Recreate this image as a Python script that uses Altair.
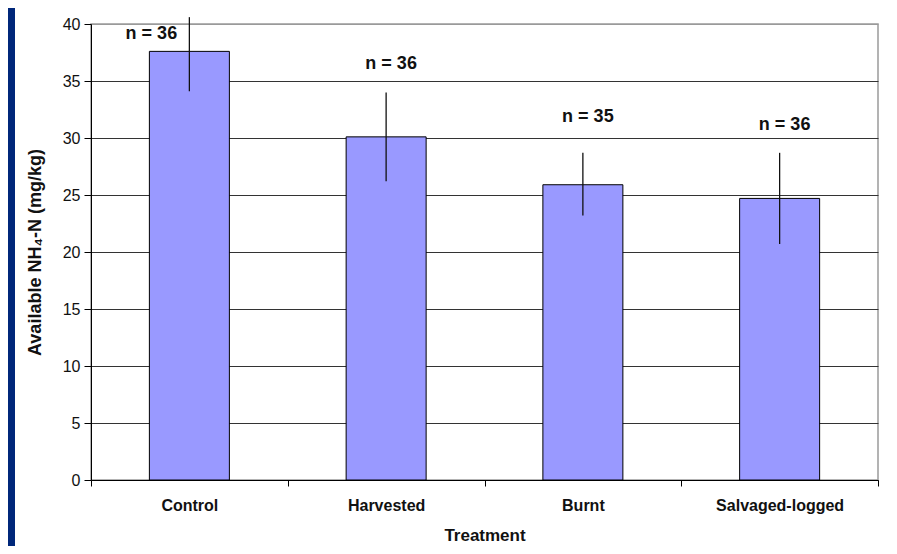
import altair as alt
import pandas as pd

categories = ["Control", "Harvested", "Burnt", "Salvaged-logged"]
means = [37.6, 30.1, 25.9, 24.7]
err_low = [34.1, 26.2, 23.2, 20.7]
err_high = [40.6, 34.0, 28.7, 28.7]
n_labels = ["n = 36", "n = 36", "n = 35", "n = 36"]
label_y = [39.1, 36.5, 31.8, 31.1]

df = pd.DataFrame({
    "Treatment": categories,
    "mean": means,
    "lo": err_low,
    "hi": err_high,
    "nlab": n_labels,
    "ly": label_y,
})

W, H = 787, 456
FONT = "Liberation Sans"

x_enc = alt.X(
    "Treatment:N",
    sort=categories,
    scale=alt.Scale(paddingInner=0, paddingOuter=0),
    axis=alt.Axis(
        title="Treatment",
        labelAngle=0,
        labelFont=FONT,
        labelFontSize=16,
        labelFontWeight="bold",
        labelColor="#111",
        labelPadding=11,
        tickBand="extent",
        tickSize=6,
        tickColor="#000",
        domainColor="#000",
        titleFont=FONT,
        titleFontSize=17,
        titleFontWeight="bold",
        titleColor="#111",
        titlePadding=14,
        grid=False,
    ),
)

y_scale = alt.Scale(domain=[0, 40], nice=False)

strip = alt.Chart(pd.DataFrame({"p": [0]})).mark_rect(
    color="#00277A", clip=False
).encode(
    x=alt.value(-84), x2=alt.value(-76),
    y=alt.value(-17), y2=alt.value(H + 67),
)

base = alt.Chart(df)

bars = base.mark_bar(width=80, color="#9999FF", stroke="#000", strokeWidth=1).encode(
    x=x_enc,
    y=alt.Y(
        "mean:Q",
        scale=y_scale,
        axis=alt.Axis(
            title="Available NH₄-N  (mg/kg)",
            values=list(range(0, 41, 5)),
            labelFont=FONT,
            labelFontSize=16,
            labelColor="#111",
            labelPadding=4,
            tickSize=7,
            tickColor="#000",
            domainColor="#000",
            grid=True,
            gridColor={"condition": {"test": "datum.value == 40", "value": "#9a9a9a"}, "value": "#333"},
            gridWidth=1,
            titleFont=FONT,
            titleFontSize=18,
            titleFontWeight="bold",
            titleColor="#111",
            titlePadding=18,
        ),
    ),
)

errs = base.mark_rule(color="#111", strokeWidth=1.3, clip=False).encode(
    x=alt.X("Treatment:N", sort=categories),
    y="lo:Q",
    y2="hi:Q",
)

labels_ctrl = base.transform_filter(alt.datum.Treatment == "Control").mark_text(
    font=FONT, fontSize=18, fontWeight="bold", color="#111", dx=-38
).encode(
    x=alt.X("Treatment:N", sort=categories),
    y="ly:Q",
    text="nlab:N",
)

labels_other = base.transform_filter(alt.datum.Treatment != "Control").mark_text(
    font=FONT, fontSize=18, fontWeight="bold", color="#111", dx=5
).encode(
    x=alt.X("Treatment:N", sort=categories),
    y="ly:Q",
    text="nlab:N",
)

chart = alt.layer(strip, bars, errs, labels_ctrl, labels_other).properties(
    width=W,
    height=H,
    background="white",
    padding={"left": 83, "top": 16, "right": 11, "bottom": 66},
    autosize=alt.AutoSizeParams(type="none"),
).configure_view(stroke="#9a9a9a", strokeWidth=1.5)

chart.save("out.html", embed_options={"renderer": "svg", "actions": False})
